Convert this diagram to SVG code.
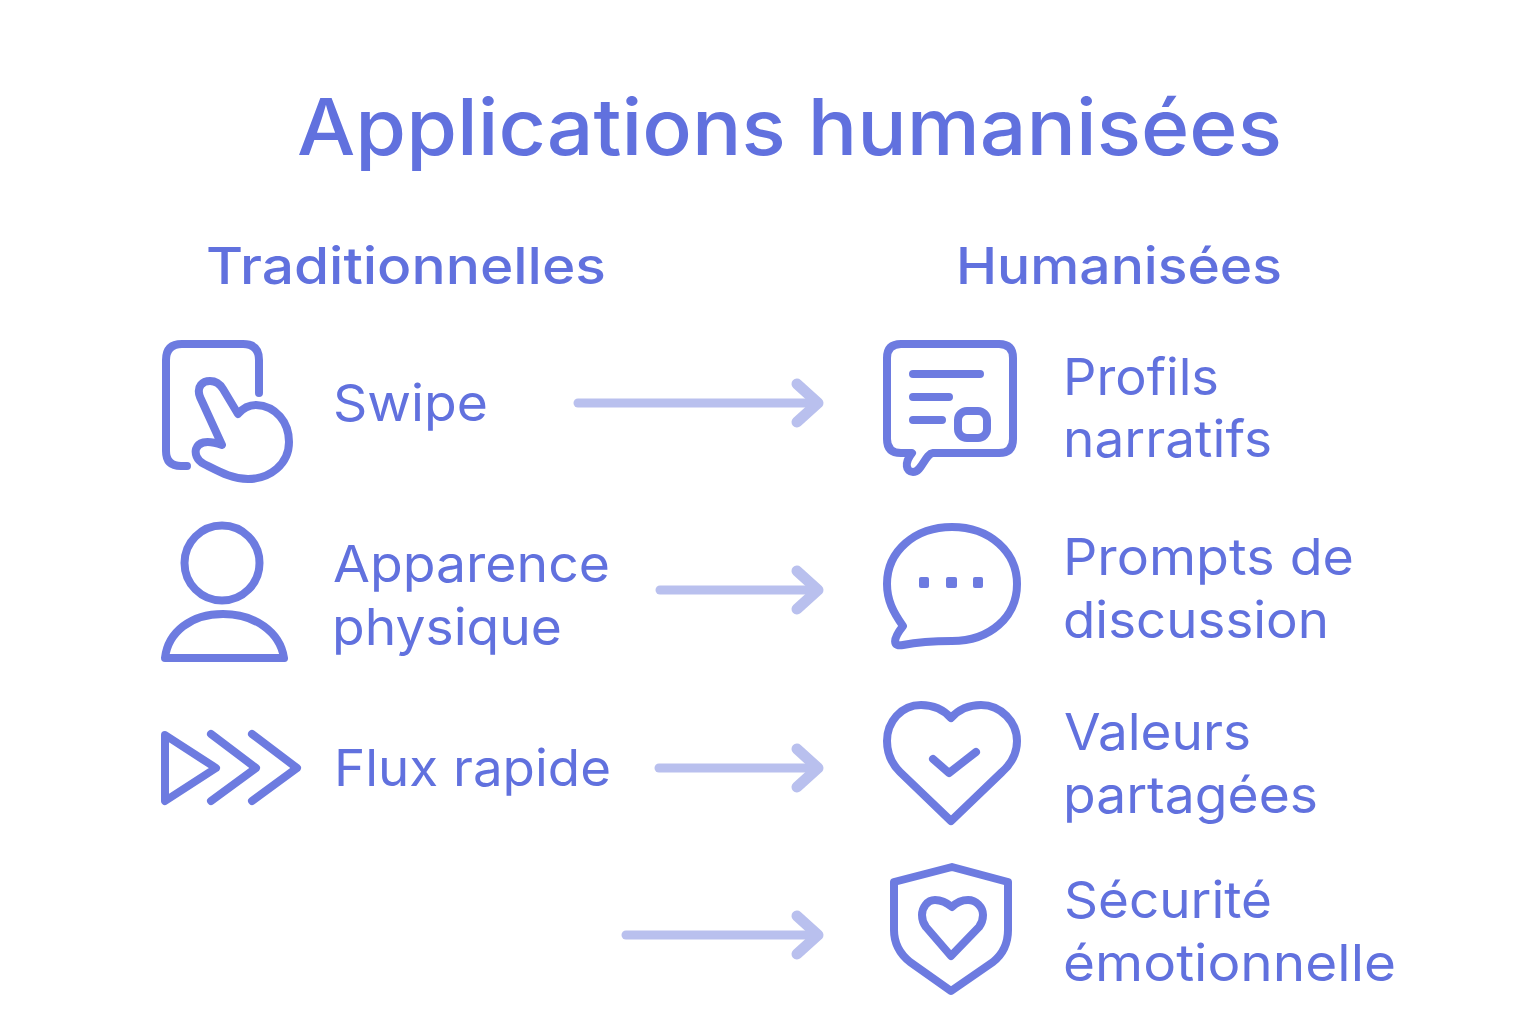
<svg xmlns="http://www.w3.org/2000/svg" width="1536" height="1024" viewBox="0 0 1536 1024">
<style>
.t{font-family:"Inter","Noto Sans","Liberation Sans",sans-serif;fill:#6171de}
.title{font-size:78px;font-weight:550}
.head{font-size:51px;font-weight:500}
.lab{font-size:51px;font-weight:420}
.i{fill:none;stroke:#6d7be0;stroke-width:8;stroke-linecap:round;stroke-linejoin:round}
.c{fill:none;stroke:#b9c0ee;stroke-width:9;stroke-linecap:round;marker-end:url(#ah)}
</style>
<defs>
<marker id="ah" markerUnits="userSpaceOnUse" markerWidth="40" markerHeight="60" refX="31" refY="30" orient="auto" overflow="visible">
<path d="M10 11 L31 30 L10 49" fill="none" stroke="#b9c0ee" stroke-width="11" stroke-linecap="round" stroke-linejoin="round"/>
</marker>
</defs>
<rect width="1536" height="1024" fill="#fff"/>
<text class="t title" x="297" y="155" textLength="985" lengthAdjust="spacingAndGlyphs">Applications humanisées</text>
<text class="t head" x="206" y="284" textLength="400" lengthAdjust="spacingAndGlyphs">Traditionnelles</text>
<text class="t head" x="956" y="284" textLength="326" lengthAdjust="spacingAndGlyphs">Humanisées</text>
<g id="connectors">
<line class="c" x1="578" y1="403" x2="818" y2="403"/>
<line class="c" x1="660" y1="590" x2="818" y2="590"/>
<line class="c" x1="659" y1="768" x2="818" y2="768"/>
<line class="c" x1="626" y1="935" x2="818" y2="935"/>
</g>
<g id="swipe">
<path class="i" d="M187 466 H181 Q166 466 166 451 V360 Q166 344 182 344 H243 Q259 344 259 360 V393"/>
<path class="i" d="M222 445 L200 397 C196 386 203 381 210 381 C216 381 220 384 223 389 L238 414 C243 408 250 405 256 405 C276 406 289 422 289 442 C289 464 270 479 248 479 C232 479 220 472 204 464 C196 460 195 453 196 449 C198 443 205 439 222 445Z"/>
<text class="t lab" x="333" y="421" textLength="155" lengthAdjust="spacingAndGlyphs">Swipe</text>
</g>
<g id="apparence">
<circle class="i" cx="222" cy="563" r="37.5"/>
<path class="i" d="M165 658 C168 632 191 614 223 614 C255 614 280 632 284 658Z"/>
<text class="t lab" x="333" y="582" textLength="277" lengthAdjust="spacingAndGlyphs">Apparence</text>
<text class="t lab" x="332" y="645" textLength="230" lengthAdjust="spacingAndGlyphs">physique</text>
</g>
<g id="flux">
<path class="i" d="M165 735 L216 768 L165 801Z"/>
<path class="i" d="M211 734 L256 768 L211 801"/>
<path class="i" d="M252 734 L297 768 L252 801"/>
<text class="t lab" x="334" y="786" textLength="277" lengthAdjust="spacingAndGlyphs">Flux rapide</text>
</g>
<g id="profils">
<path class="i" d="M901 344 H999 Q1013 344 1013 358 V439 Q1013 453 999 453 H933 C925 454 922 472 913 472 C906 472 904 463 912 453 H901 Q887 453 887 439 V358 Q887 344 901 344Z"/>
<path class="i" d="M913 374 H980 M913 397 H949 M913 420 H942"/>
<rect class="i" x="958" y="411" width="29" height="27" rx="9"/>
<text class="t lab" x="1063" y="395" textLength="156" lengthAdjust="spacingAndGlyphs">Profils</text>
<text class="t lab" x="1063" y="457" textLength="209" lengthAdjust="spacingAndGlyphs">narratifs</text>
</g>
<g id="prompts">
<path class="i" d="M903 626 C893 612 887 600 887 584 C887 551 915 527 952 527 C990 527 1017 552 1017 584 C1017 617 990 641 952 641 C930 641 918 642 903 645 C893 647 892 640 903 626Z"/>
<rect x="919" y="577" width="10" height="11" rx="2" fill="#6d7be0"/>
<rect x="946" y="577" width="11" height="11" rx="2" fill="#6d7be0"/>
<rect x="973" y="577" width="10" height="11" rx="2" fill="#6d7be0"/>
<text class="t lab" x="1063" y="575" textLength="291" lengthAdjust="spacingAndGlyphs">Prompts de</text>
<text class="t lab" x="1063" y="638" textLength="266" lengthAdjust="spacingAndGlyphs">discussion</text>
</g>
<g id="valeurs">
<path class="i" d="M951 718 C942 708 932 705 921 705 C901 705 887 722 887 741 C887 753 892 764 900 772 L951 821 L1002 772 C1011 764 1017 753 1017 741 C1017 722 1001 705 981 705 C970 705 960 708 951 718Z"/>
<path class="i" d="M933 759 L949 773 L976 752"/>
<text class="t lab" x="1064" y="750" textLength="187" lengthAdjust="spacingAndGlyphs">Valeurs</text>
<text class="t lab" x="1063" y="813" textLength="255" lengthAdjust="spacingAndGlyphs">partagées</text>
</g>
<g id="securite">
<path class="i" d="M952 867 L894 882 V930 C894 943 900 954 910 962 L951 991 L993 962 C1003 954 1008 943 1008 930 V882Z"/>
<path class="i" d="M952 907 C946 902 941 900 935 900 C927 900 922 908 922 915 C922 919 923 923 926 927 L951 956 L979 927 C982 923 983 919 983 915 C983 907 976 900 968 900 C962 900 957 902 952 907Z"/>
<text class="t lab" x="1064" y="918" textLength="208" lengthAdjust="spacingAndGlyphs">Sécurité</text>
<text class="t lab" x="1063" y="981" textLength="333" lengthAdjust="spacingAndGlyphs">émotionnelle</text>
</g>
</svg>
